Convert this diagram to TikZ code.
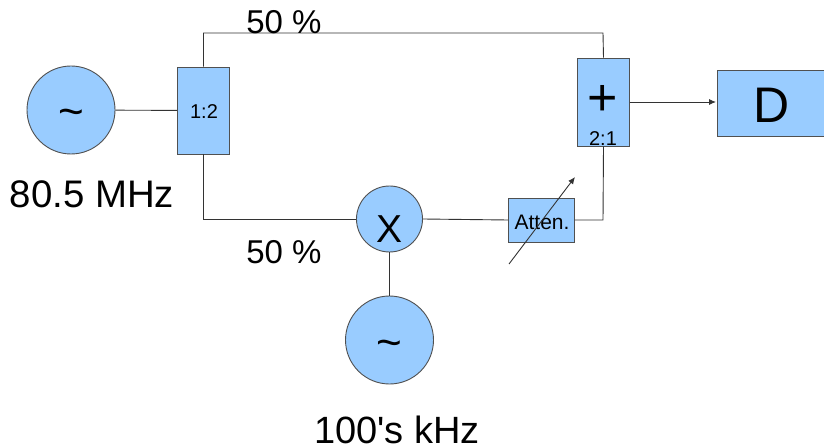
\documentclass[tikz,border=0pt]{standalone}
\usepackage{fontspec}
\setmainfont{Liberation Sans}
\newfontfamily\plainsans{Liberation Sans}
\usetikzlibrary{arrows.meta}
\definecolor{fillblue}{HTML}{99CCFF}
\definecolor{edgegray}{HTML}{505050}
\newcommand{\fs}[1]{\fontsize{#1}{#1}\selectfont}
\tikzset{
  x=1pt,y=-1pt,
  block/.style={draw=edgegray,fill=fillblue,line width=0.9pt,inner sep=0pt,minimum width=#1},
  disc/.style={circle,draw=edgegray,fill=fillblue,line width=0.9pt,inner sep=0pt,minimum size=#1},
  wire/.style={draw=black!80,line width=0.9pt},
  tip/.style={-{Latex[length=7pt,width=6pt]}},
  txt/.style={inner sep=0pt,text=black,anchor=base}
}
\begin{document}
\begin{tikzpicture}
\useasboundingbox (0,0) rectangle (824,446);
\coordinate (tl) at (203.5,33);
\coordinate (tr) at (603,33);
\coordinate (bl) at (203.5,219.5);
\coordinate (ar) at (603,220);
\coordinate (ds) at (509,264);
\coordinate (de) at (575,177);
\coordinate (o1) at (629.5,102);
\coordinate (o2) at (716,102);
\node[disc=88pt] (src) at (71,110) {};
\node[block=52pt,minimum height=87pt] (split) at (203.5,110.5) {};
\node[block=52pt,minimum height=88pt] (sum) at (603.5,102) {};
\node[block=110pt,minimum height=66pt] (det) at (772,103) {};
\node[block=66pt,minimum height=44pt] (att) at (541.5,220) {};
\node[disc=66pt] (mix) at (389.5,219) {};
\node[disc=88pt] (lo) at (389.5,340) {};
\draw[wire] (src) -- (split);
\draw[wire] (split.north) -- (tl) -- (tr) -- (sum.north);
\draw[wire] (split.south) -- (bl) -- (bl -| mix.west);
\draw[wire] (mix.east) -- (att.west);
\draw[wire] (att.east) -- (ar) -- (sum.south);
\draw[wire] (mix) -- (lo);
\draw[wire,tip] (o1) -- (o2);
\node[txt,font=\fs{44}] (t1) at (71,127) {\textasciitilde};
\node[txt,font=\fs{20}] (t2) at (204,119) {1:2};
\node[txt,font=\fs{52}] (t3) at (603,116) {+};
\node[txt,font=\fs{20}] (t4) at (603,145.5) {2:1};
\node[txt,font=\fs{50}] (t5) at (772,123) {D};
\node[txt,font=\fs{21}] (t6) at (542,230) {Atten.};
\node[txt,font=\fs{39}] (t7) at (389.5,243) {X};
\node[txt,font=\fs{44}] (t8) at (389.5,357) {\textasciitilde};
\draw[wire,tip] (ds) -- (de);
\node[txt,font=\fs{38.4}] (l1) at (92,208) {80.5 MHz};
\node[txt,font=\fs{33}] (l2) at (284,33.5) {50 \%};
\node[txt,font=\fs{33}] (l3) at (284,263.5) {50 \%};
\node[txt,font=\fs{38}\plainsans] (l4) at (397,443) {100's kHz};
\end{tikzpicture}
\end{document}
